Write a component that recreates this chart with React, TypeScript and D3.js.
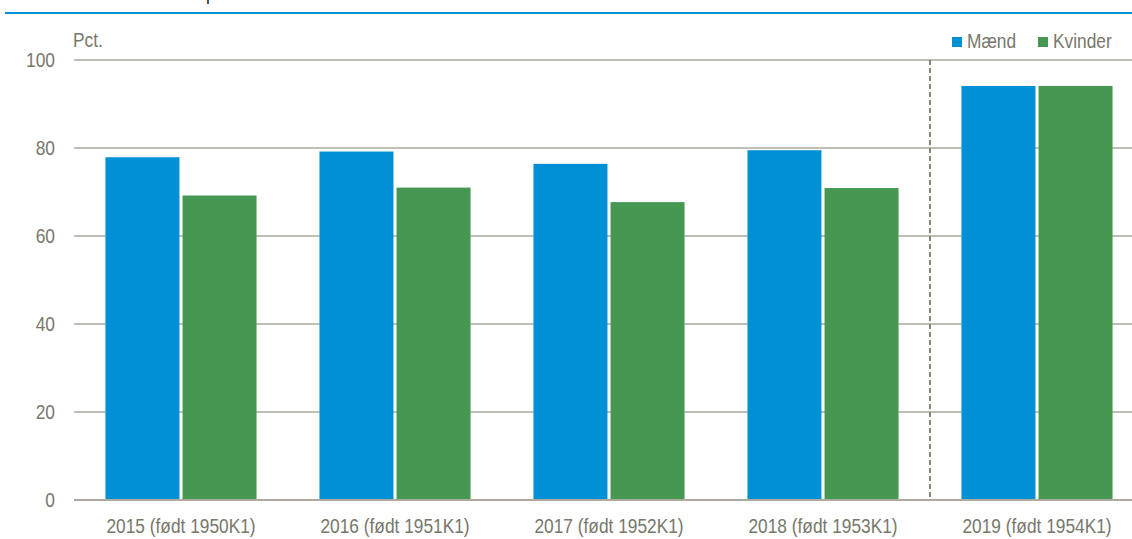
import React from "react";
import * as d3 from "d3";

const categories = [
  "2015 (født 1950K1)",
  "2016 (født 1951K1)",
  "2017 (født 1952K1)",
  "2018 (født 1953K1)",
  "2019 (født 1954K1)",
];
const seriesNames = ["Mænd", "Kvinder"];
const maend = [77.9, 79.2, 76.4, 79.5, 94.1];
const kvinder = [69.2, 71.0, 67.7, 70.9, 94.1];
const yTicks = [0, 20, 40, 60, 80, 100];

const W = 1132;
const H = 539;
const FONT = "'Liberation Sans Narrow', 'Arial Narrow', 'Liberation Sans', sans-serif";
const TEXT = "#77776b";
const GRID = "#aeab9e";
const COLORS = ["#0090d5", "#469751"];
const SX = 0.845;

function NText(props: {
  x: number;
  y: number;
  anchor?: "start" | "middle" | "end";
  dy?: string;
  size?: number;
  fill?: string;
  children: React.ReactNode;
}) {
  return (
    <text
      transform={`translate(${props.x},${props.y}) scale(${SX},1)`}
      textAnchor={props.anchor || "start"}
      dy={props.dy}
      fontSize={props.size || 20.5}
      fill={props.fill || TEXT}
      fontFamily={FONT}
    >
      {props.children}
    </text>
  );
}

export default function App() {
  const left = 74;
  const x = d3
    .scaleBand<string>()
    .domain(categories)
    .range([left, left + 214 * 5])
    .paddingInner(0.294)
    .paddingOuter(0.147);
  const xs = d3
    .scaleBand<string>()
    .domain(seriesNames)
    .range([0, x.bandwidth()])
    .paddingInner(0.04);
  const y = d3.scaleLinear().domain([0, 100]).range([500, 60]);
  const values = [maend, kvinder];
  const dashX = (x(categories[3])! + x.bandwidth() + x(categories[4])!) / 2;

  return (
    <svg
      width={W}
      height={H}
      style={{ position: "absolute", left: 0, top: 0, background: "#fff" }}
      fontFamily={FONT}
    >
      <NText x={206} y={0} fill="#222">
        p
      </NText>
      <line x1={5} x2={W} y1={13} y2={13} stroke="#0090d5" strokeWidth={2} />

      {yTicks.map((t) => (
        <g key={t}>
          <line
            x1={left}
            x2={W}
            y1={y(t)}
            y2={y(t)}
            stroke={GRID}
            strokeWidth={t === 0 ? 2 : 1.5}
          />
          <NText x={55} y={y(t)} dy="0.35em" anchor="end">
            {t}
          </NText>
        </g>
      ))}
      <NText x={73} y={47}>
        Pct.
      </NText>

      {categories.map((c, i) => (
        <g key={c} transform={`translate(${x(c)},0)`}>
          {seriesNames.map((s, j) => (
            <rect
              key={s}
              x={xs(s)}
              y={y(values[j][i])}
              width={xs.bandwidth()}
              height={y(0) - y(values[j][i]) - 1}
              fill={COLORS[j]}
            />
          ))}
          <NText x={x.bandwidth() / 2} y={533} anchor="middle">
            {c}
          </NText>
        </g>
      ))}

      <line
        x1={dashX}
        x2={dashX}
        y1={60}
        y2={500}
        stroke="#5f5f52"
        strokeWidth={1.5}
        strokeDasharray="5,3"
      />

      {seriesNames.map((s, j) => {
        const lx = [952, 1038][j];
        return (
          <g key={s}>
            <rect x={lx} y={37} width={10} height={10} fill={COLORS[j]} />
            <NText x={lx + 15} y={48}>
              {s}
            </NText>
          </g>
        );
      })}
    </svg>
  );
}
